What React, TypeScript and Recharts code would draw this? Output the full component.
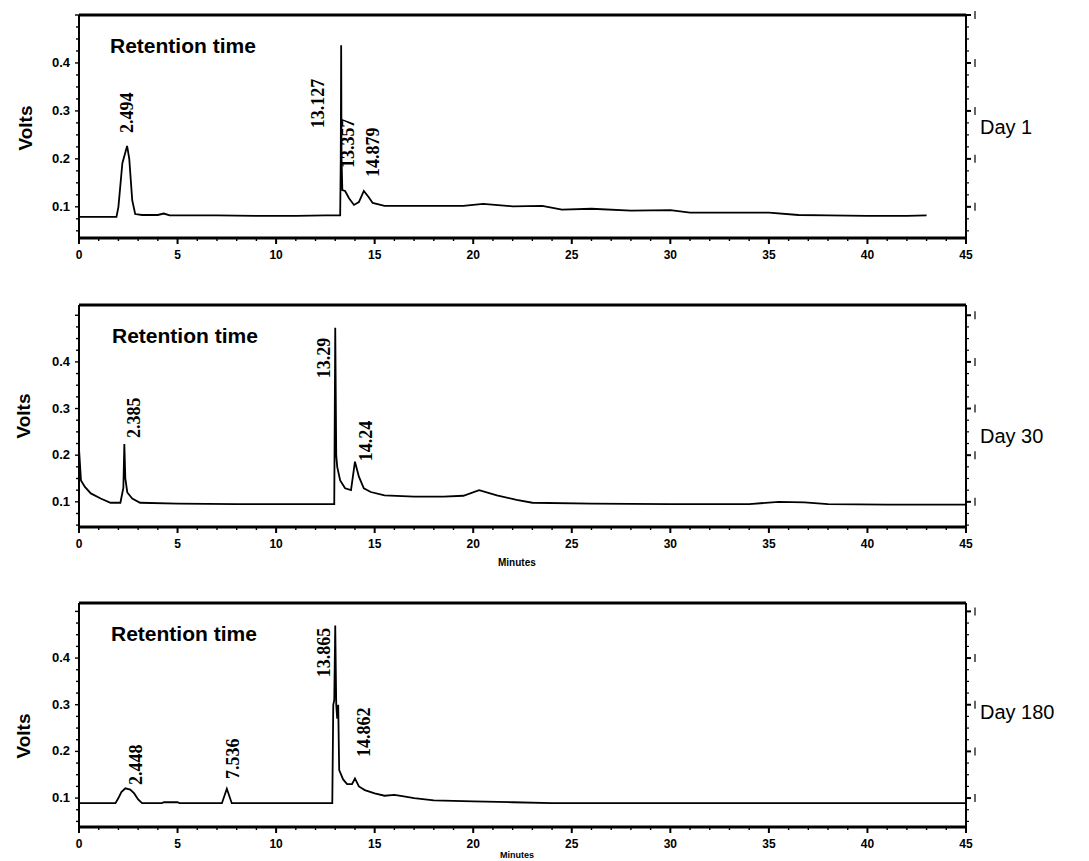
import { LineChart, Line, XAxis, YAxis, ReferenceDot, ReferenceLine } from 'recharts'

// retention time axis (minutes)
const minuteTicks = [
  0, 1, 2, 3, 4, 5, 6, 7, 8, 9, 10, 11, 12, 13, 14, 15, 16, 17, 18, 19, 20, 21, 22,
  23, 24, 25, 26, 27, 28, 29, 30, 31, 32, 33, 34, 35, 36, 37, 38, 39, 40, 41, 42, 43, 44, 45,
]
const voltTicks = [
  0.05, 0.075, 0.1, 0.125, 0.15, 0.175, 0.2, 0.225, 0.25, 0.275, 0.3, 0.325, 0.35, 0.375,
  0.4, 0.425, 0.45, 0.475, 0.5,
]
const voltLabels = ['0.1', '0.2', '0.3', '0.4']

// Day 1
const day1Time = [
  0, 1.9, 2.0, 2.2, 2.44, 2.55, 2.7, 2.85, 3.2, 4.0, 4.3, 4.6, 7, 9, 11, 12.5, 13.25,
  13.28, 13.3, 13.32, 13.36, 13.5, 13.7, 13.95, 14.2, 14.45, 14.7, 14.9, 15.5, 17, 19.5,
  20.5, 22, 23.5, 24.5, 26, 28, 30, 31, 33, 35, 36.5, 38, 40, 42, 43,
]
const day1Volt = [
  0.079, 0.079, 0.1, 0.191, 0.227, 0.2, 0.114, 0.085, 0.083, 0.083, 0.086, 0.082, 0.082,
  0.081, 0.081, 0.082, 0.082, 0.2, 0.437, 0.2, 0.135, 0.133, 0.118, 0.104, 0.11, 0.133,
  0.12, 0.108, 0.102, 0.102, 0.102, 0.106, 0.101, 0.102, 0.094, 0.096, 0.092, 0.093, 0.088,
  0.088, 0.088, 0.083, 0.082, 0.081, 0.081, 0.082,
]
const day1Peaks = ['2.494', '13.127', '13.357', '14.879']
const day1PeakTime = [2.74, 12.45, 13.95, 15.22]
const day1PeakVolt = [0.254, 0.264, 0.181, 0.162]

// Day 30
const day30Time = [
  0, 0.1, 0.3, 0.6, 1.1, 1.6, 2.1, 2.25, 2.3, 2.35, 2.45, 2.7, 3.1, 5, 8, 10, 12.95,
  13.0, 13.05, 13.1, 13.25, 13.5, 13.8, 14.0, 14.2, 14.45, 14.8, 15.5, 17, 18.5, 19.5,
  20.3, 21.2, 22.2, 23, 26, 30, 34, 35.5, 36.8, 38, 41, 45,
]
const day30Volt = [
  0.214, 0.146, 0.132, 0.118, 0.107, 0.098, 0.098, 0.13, 0.224, 0.15, 0.12, 0.107, 0.098,
  0.096, 0.095, 0.095, 0.095, 0.473, 0.2, 0.175, 0.146, 0.129, 0.125, 0.186, 0.154, 0.129,
  0.121, 0.114, 0.111, 0.111, 0.113, 0.125, 0.114, 0.104, 0.098, 0.096, 0.095, 0.095,
  0.1, 0.099, 0.095, 0.094, 0.094,
]
const day30Peaks = ['2.385', '13.29', '14.24']
const day30PeakTime = [3.1, 12.72, 14.87]
const day30PeakVolt = [0.237, 0.365, 0.187]

// Day 180
const day180Time = [
  0, 1.85, 2.0, 2.15, 2.35, 2.6, 2.8, 3.0, 3.2, 4.2, 4.3, 5.0, 5.1, 7.25, 7.5, 7.75, 12.85,
  12.9, 12.95, 13.0, 13.05, 13.1, 13.15, 13.2, 13.4, 13.6, 13.85, 14.0, 14.2, 14.5, 15,
  15.5, 16.0, 16.4, 17, 18, 19, 20, 22, 24, 45,
]
const day180Volt = [
  0.089, 0.089, 0.1, 0.113, 0.121, 0.118, 0.11, 0.097, 0.089, 0.089, 0.091, 0.091, 0.089,
  0.089, 0.12, 0.089, 0.089, 0.3, 0.31, 0.47, 0.3, 0.27, 0.3, 0.16, 0.14, 0.13, 0.13,
  0.142, 0.125, 0.117, 0.11, 0.105, 0.107, 0.104, 0.1, 0.095, 0.094, 0.093, 0.091, 0.089,
  0.089,
]
const day180Peaks = ['2.448', '7.536', '13.865', '14.862']
const day180PeakTime = [3.2, 8.12, 12.72, 14.77]
const day180PeakVolt = [0.128, 0.141, 0.359, 0.188]

const SANS = "'Liberation Sans', Arial, sans-serif"
const SERIF = "'Liberation Serif', 'Times New Roman', serif"

function XTick(props: any) {
  const { x, y, payload } = props
  const v = payload.value
  const major = v % 5 === 0
  return (
    <g>
      <line x1={x} x2={x} y1={y} y2={y + (major ? 6 : 3)} stroke="#000" strokeWidth={major ? 2 : 1.4} />
      {major && (
        <text x={x} y={y + 21} textAnchor="middle" fontSize={12} fontWeight="bold" fontFamily={SANS} fill="#000">
          {v}
        </text>
      )}
    </g>
  )
}

function YTick(props: any) {
  const { x, y, payload } = props
  const label = payload.value.toFixed(1)
  const major = Math.abs(payload.value * 10 - Math.round(payload.value * 10)) < 1e-6
  return (
    <g>
      <line x1={x - (major ? 4 : 3)} x2={x} y1={y} y2={y} stroke="#000" strokeWidth={1.4} />
      {major && voltLabels.includes(label) && (
        <text x={x - 9} y={y + 4} textAnchor="end" fontSize={13} fontWeight="bold" fontFamily={SANS} fill="#000">
          {label}
        </text>
      )}
    </g>
  )
}

function RightTick(props: any) {
  const { x, y, payload } = props
  const major = Math.abs(payload.value * 10 - Math.round(payload.value * 10)) < 1e-6
  return (
    <g>
      <line x1={x} x2={x + (major ? 5 : 3)} y1={y} y2={y} stroke="#000" strokeWidth={major ? 2 : 1.2} />
      {major && <line x1={x + 9} x2={x + 9} y1={y - 4} y2={y + 4} stroke="#000" strokeWidth={1.2} />}
    </g>
  )
}

interface PanelProps {
  top: number
  height: number
  marginTop: number
  marginBottom: number
  domain: [number, number]
  time: number[]
  volt: number[]
  peaks: string[]
  peakTime: number[]
  peakVolt: number[]
}

function Panel({ top, height, marginTop, marginBottom, domain, time, volt, peaks, peakTime, peakVolt }: PanelProps) {
  const data = time.map((t, i) => ({ t, v: volt[i] }))
  const yTicks = voltTicks.filter((v) => v >= domain[0] && v <= domain[1])
  return (
    <div style={{ position: 'absolute', left: 0, top, width: 1089, height }}>
      <LineChart width={1089} height={height} data={data} margin={{ top: marginTop, right: 108, bottom: marginBottom, left: 19 }}>
        <XAxis
          dataKey="t"
          type="number"
          domain={[0, 45]}
          ticks={minuteTicks}
          interval={0}
          height={25}
          tickSize={0}
          tickMargin={0}
          tickLine={false}
          tick={<XTick />}
          axisLine={{ stroke: '#000', strokeWidth: 3 }}
          allowDataOverflow
        />
        <YAxis
          type="number"
          domain={domain}
          ticks={yTicks}
          interval={0}
          width={60}
          tickSize={0}
          tickMargin={0}
          tickLine={false}
          tick={<YTick />}
          axisLine={{ stroke: '#000', strokeWidth: 2 }}
          allowDataOverflow
        />
        <YAxis
          yAxisId="right"
          orientation="right"
          type="number"
          domain={domain}
          ticks={yTicks}
          interval={0}
          width={15}
          tickSize={0}
          tickMargin={0}
          tickLine={false}
          tick={<RightTick />}
          axisLine={{ stroke: '#000', strokeWidth: 2 }}
          allowDataOverflow
        />
        <ReferenceLine y={domain[1]} stroke="#000" strokeWidth={3} ifOverflow="visible" />
        <Line dataKey="v" type="linear" stroke="#000" strokeWidth={1.8} dot={false} isAnimationActive={false} />
        {peaks.map((p, i) => (
          <ReferenceDot
            key={p}
            x={peakTime[i]}
            y={peakVolt[i]}
            r={0}
            ifOverflow="visible"
            shape={(s: any) => (
              <text
                x={s.cx}
                y={s.cy}
                transform={`rotate(-90 ${s.cx} ${s.cy})`}
                fontSize={18}
                fontWeight="bold"
                fontFamily={SERIF}
                fill="#000"
              >
                {p}
              </text>
            )}
          />
        ))}
      </LineChart>
    </div>
  )
}

const textStyle = { fontFamily: SANS, fill: '#000' }

export default function App() {
  return (
    <div style={{ position: 'absolute', left: 0, top: 0, width: 1089, height: 861, background: '#fff', overflow: 'hidden' }}>
      <Panel top={0} height={270} marginTop={15} marginBottom={7} domain={[0.035, 0.5]}
        time={day1Time} volt={day1Volt} peaks={day1Peaks} peakTime={day1PeakTime} peakVolt={day1PeakVolt} />
      <Panel top={280} height={290} marginTop={25} marginBottom={18} domain={[0.046, 0.522]}
        time={day30Time} volt={day30Volt} peaks={day30Peaks} peakTime={day30PeakTime} peakVolt={day30PeakVolt} />
      <Panel top={580} height={281} marginTop={23} marginBottom={9} domain={[0.038, 0.518]}
        time={day180Time} volt={day180Volt} peaks={day180Peaks} peakTime={day180PeakTime} peakVolt={day180PeakVolt} />
      <svg width={1089} height={861} style={{ position: 'absolute', left: 0, top: 0, pointerEvents: 'none' }}>
        <text x={110} y={53} fontSize={21} fontWeight="bold" style={textStyle}>Retention time</text>
        <text x={112} y={343} fontSize={21} fontWeight="bold" style={textStyle}>Retention time</text>
        <text x={111} y={641} fontSize={21} fontWeight="bold" style={textStyle}>Retention time</text>
        <text x={32} y={128} fontSize={19} fontWeight="bold" textAnchor="middle" transform="rotate(-90 32 128)" style={textStyle}>Volts</text>
        <text x={30} y={416} fontSize={19} fontWeight="bold" textAnchor="middle" transform="rotate(-90 30 416)" style={textStyle}>Volts</text>
        <text x={30} y={736} fontSize={19} fontWeight="bold" textAnchor="middle" transform="rotate(-90 30 736)" style={textStyle}>Volts</text>
        <text x={980} y={134} fontSize={20} style={textStyle}>Day 1</text>
        <text x={980} y={443} fontSize={20} style={textStyle}>Day 30</text>
        <text x={980} y={719} fontSize={20} style={textStyle}>Day 180</text>
        <text x={498} y={566} fontSize={10} fontWeight="bold" style={textStyle}>Minutes</text>
        <text x={500} y={858} fontSize={9} fontWeight="bold" style={textStyle}>Minutes</text>
      </svg>
    </div>
  )
}
